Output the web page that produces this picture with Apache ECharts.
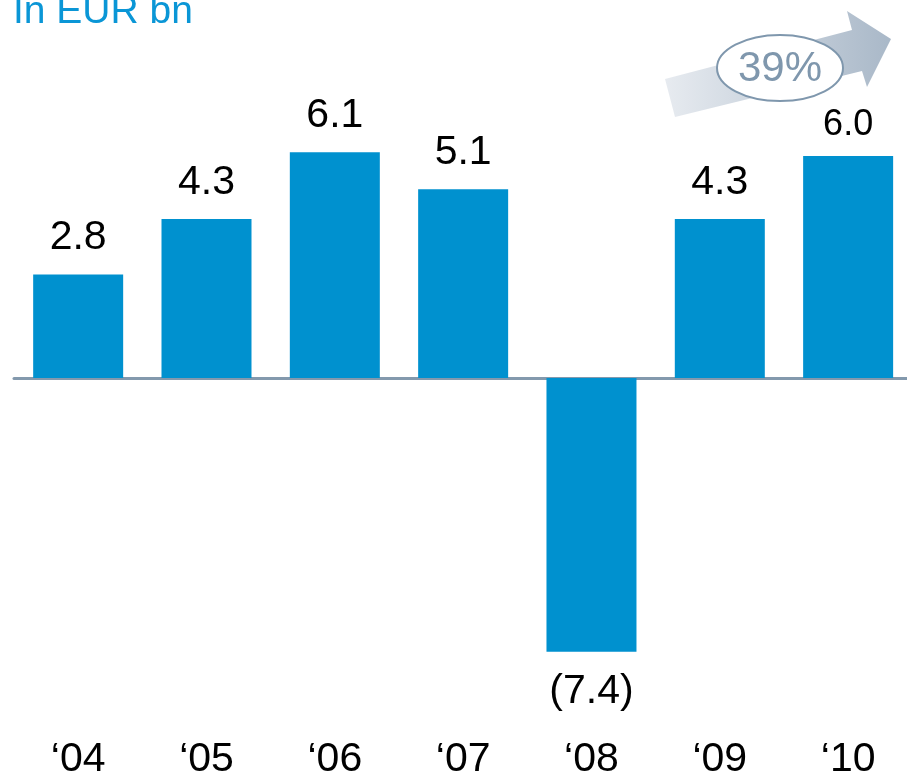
<!DOCTYPE html>
<html>
<head>
<meta charset="utf-8">
<script src="https://cdn.jsdelivr.net/npm/echarts@6/dist/echarts.min.js"></script>
<style>
  html, body { margin: 0; padding: 0; background: #fff; }
  #chart { width: 907px; height: 776px; }
</style>
</head>
<body>
<div id="chart"></div>
<script>
// data
const years = ['\u201804', '\u201805', '\u201806', '\u201807', '\u201808', '\u201809', '\u201810']
const values = [2.8, 4.3, 6.1, 5.1, -7.4, 4.3, 6.0]
const unitTitle = 'In EUR bn'
const growthLabel = '39%'

const barColor = '#0091cf'
const font = 'Liberation Sans, Arial, sans-serif'

const chart = echarts.init(document.getElementById('chart'), null, { renderer: 'canvas' })

// negative values shown in brackets under the bar, last label is a bit smaller
const barData = values.map((v, i) => {
  const last = i === values.length - 1
  return {
    value: v,
    label: v < 0
      ? { position: 'bottom', distance: 19 }
      : { position: 'top', distance: last ? 13 : 16, fontSize: last ? 36 : 41 }
  }
})

chart.setOption({
  animation: false,
  grid: {
    left: 14, top: 82, width: 898.3, height: 592,
    containLabel: false, outerBoundsMode: 'none'
  },
  xAxis: [
    {
      type: 'category',
      data: years,
      axisLine: { onZero: true, lineStyle: { color: '#8399ad', width: 3 } },
      axisTick: { show: false },
      axisLabel: { show: false }
    },
    {
      type: 'category',
      data: years,
      position: 'bottom',
      axisLine: { show: false, onZero: false },
      axisTick: { show: false },
      axisLabel: { color: '#000', fontSize: 41, fontFamily: font, margin: 65 }
    }
  ],
  yAxis: {
    type: 'value',
    min: -8,
    max: 8,
    show: false,
    splitLine: { show: false }
  },
  series: [{
    type: 'bar',
    data: barData,
    barWidth: 90,
    itemStyle: { color: barColor },
    label: {
      show: true,
      color: '#000',
      fontSize: 41,
      fontFamily: font,
      formatter: p => p.value < 0 ? '(' + Math.abs(p.value).toFixed(1) + ')' : p.value.toFixed(1)
    }
  }],
  graphic: [
    {
      type: 'text',
      left: 13,
      top: -7,
      style: { text: unitTitle, fill: '#0a96d6', font: '39px ' + font }
    },
    {
      type: 'polygon',
      shape: {
        points: [[665, 79], [852, 30], [847, 11], [891, 39], [867, 87], [862, 71], [675, 117]]
      },
      style: {
        fill: new echarts.graphic.LinearGradient(0, 0, 1, 0, [
          { offset: 0, color: '#e7ebf0' },
          { offset: 1, color: '#a9b8c8' }
        ])
      }
    },
    {
      type: 'ellipse',
      shape: { cx: 780, cy: 68, rx: 63, ry: 33 },
      style: { fill: '#fff', stroke: '#7f97ad', lineWidth: 2 }
    },
    {
      type: 'text',
      x: 780,
      y: 69,
      style: {
        text: growthLabel,
        fill: '#7f97ad',
        font: '42px ' + font,
        align: 'center',
        verticalAlign: 'middle'
      }
    }
  ]
})
</script>
</body>
</html>
